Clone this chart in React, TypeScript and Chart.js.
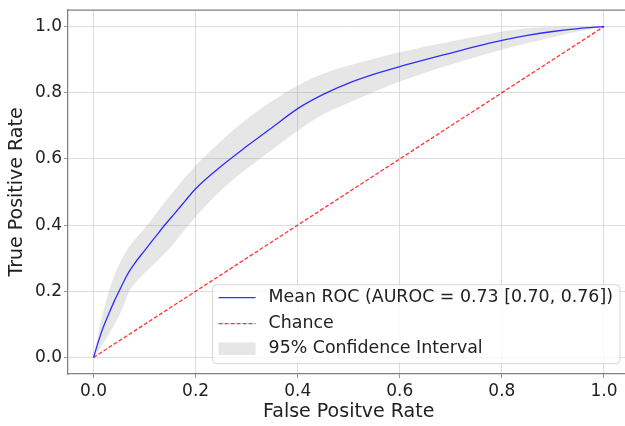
import React, { useEffect, useRef } from "react";
import { Chart, registerables } from "chart.js";

Chart.register(...registerables);

const fpr = [0, 0.01, 0.02, 0.03, 0.04, 0.05, 0.06, 0.07, 0.08, 0.1, 0.12, 0.14, 0.16, 0.18, 0.2, 0.25, 0.3, 0.35, 0.4, 0.45, 0.5, 0.55, 0.6, 0.65, 0.7, 0.75, 0.8, 0.85, 0.9, 0.95, 1.0];
const meanTpr = [0, 0.05, 0.095, 0.132, 0.168, 0.2, 0.232, 0.26, 0.283, 0.323, 0.362, 0.401, 0.437, 0.474, 0.51, 0.578, 0.638, 0.695, 0.752, 0.795, 0.829, 0.856, 0.879, 0.9, 0.92, 0.94, 0.958, 0.973, 0.985, 0.994, 1.0];
const upperTpr = [0, 0.08, 0.145, 0.2, 0.245, 0.28, 0.31, 0.335, 0.355, 0.39, 0.43, 0.47, 0.508, 0.545, 0.58, 0.655, 0.72, 0.775, 0.822, 0.857, 0.882, 0.903, 0.922, 0.94, 0.955, 0.97, 0.985, 0.995, 0.999, 1.0, 1.0];
const lowerTpr = [0, 0.02, 0.045, 0.07, 0.097, 0.125, 0.16, 0.2, 0.222, 0.255, 0.285, 0.315, 0.35, 0.388, 0.425, 0.505, 0.57, 0.628, 0.685, 0.735, 0.77, 0.803, 0.834, 0.86, 0.885, 0.908, 0.93, 0.95, 0.968, 0.985, 1.0];
const chanceX = [0, 1];
const chanceY = [0, 1];

const xRange = [-0.05, 1.05];
const yRange = [-0.05, 1.05];

const legendLabels = ["Mean ROC (AUROC = 0.73 [0.70, 0.76])", "Chance", "95% Confidence Interval"];
const xTitle = "False Positve Rate";
const yTitle = "True Positive Rate";

const FONT = '"DejaVu Sans", sans-serif';
const SPINE = "#808080";

const toPts = (xs: number[], ys: number[]) => xs.map((x, i) => ({ x, y: ys[i] }));

const framePlugin = {
  id: "frameTop",
  afterDraw(chart: any) {
    const { ctx, chartArea } = chart;
    ctx.save();
    ctx.strokeStyle = SPINE;
    ctx.lineWidth = 1.25;
    ctx.beginPath();
    ctx.moveTo(chartArea.left, chartArea.top);
    ctx.lineTo(chartArea.right, chartArea.top);
    ctx.stroke();
    ctx.restore();
  },
};

const legendPlugin = {
  id: "rocLegend",
  afterDraw(chart: any) {
    const { ctx, chartArea } = chart;
    const ds = chart.data.datasets;
    ctx.save();
    ctx.font = `17.4px ${FONT}`;
    const textW = Math.max(...legendLabels.map((t) => ctx.measureText(t).width));
    const padL = 6, handleW = 37, gap = 13, padR = 7;
    const boxW = padL + handleW + gap + textW + padR;
    const boxH = 79;
    const right = chartArea.right - 9.5;
    const bottom = chartArea.bottom - 10.3;
    const left = right - boxW;
    const top = bottom - boxH;
    ctx.beginPath();
    ctx.roundRect(left, top, boxW, boxH, 4);
    ctx.fillStyle = "rgba(255,255,255,0.8)";
    ctx.fill();
    ctx.strokeStyle = "rgba(204,204,204,0.8)";
    ctx.lineWidth = 1;
    ctx.stroke();

    const rows = [top + 13, top + 39, top + 64];
    const hx = left + padL;
    ctx.strokeStyle = ds[0].borderColor;
    ctx.lineWidth = ds[0].borderWidth;
    ctx.setLineDash([]);
    ctx.beginPath();
    ctx.moveTo(hx, rows[0]);
    ctx.lineTo(hx + handleW, rows[0]);
    ctx.stroke();
    ctx.strokeStyle = ds[1].borderColor;
    ctx.lineWidth = ds[1].borderWidth;
    ctx.setLineDash(ds[1].borderDash);
    ctx.beginPath();
    ctx.moveTo(hx, rows[1]);
    ctx.lineTo(hx + handleW, rows[1]);
    ctx.stroke();
    ctx.setLineDash([]);
    ctx.fillStyle = ds[2].backgroundColor;
    ctx.fillRect(hx, rows[2] - 6.3, handleW, 12.6);

    ctx.fillStyle = "#222";
    ctx.textBaseline = "middle";
    ctx.textAlign = "left";
    legendLabels.forEach((t, i) => ctx.fillText(t, hx + handleW + gap, rows[i]));
    ctx.restore();
  },
};

export default function App() {
  const ref = useRef<HTMLCanvasElement | null>(null);
  useEffect(() => {
    if (!ref.current) return;
    const chart = new Chart(ref.current, {
      type: "line",
      data: {
        datasets: [
          {
            label: legendLabels[0],
            data: toPts(fpr, meanTpr),
            borderColor: "rgba(0,0,255,0.8)",
            borderWidth: 1.3,
            pointRadius: 0,
            cubicInterpolationMode: "monotone",
            fill: false,
          },
          {
            label: legendLabels[1],
            data: toPts(chanceX, chanceY),
            borderColor: "rgba(255,0,0,0.8)",
            borderWidth: 1.3,
            borderDash: [4, 2],
            pointRadius: 0,
            fill: false,
          },
          {
            label: legendLabels[2],
            data: toPts(fpr, upperTpr),
            borderWidth: 0,
            borderColor: "rgba(0,0,0,0)",
            backgroundColor: "rgba(128,128,128,0.2)",
            pointRadius: 0,
            cubicInterpolationMode: "monotone",
            fill: "+1",
          },
          {
            label: "lower",
            data: toPts(fpr, lowerTpr),
            borderWidth: 0,
            borderColor: "rgba(0,0,0,0)",
            pointRadius: 0,
            cubicInterpolationMode: "monotone",
            fill: false,
          },
        ],
      },
      options: {
        responsive: false,
        animation: false,
        devicePixelRatio: 1,
        layout: { padding: { left: 0, right: 10.5, top: 10, bottom: 0 } },
        plugins: {
          legend: { display: false },
          tooltip: { enabled: false },
          filler: { drawTime: "beforeDatasetsDraw" },
        },
        scales: {
          x: {
            type: "linear",
            min: xRange[0],
            max: xRange[1],
            afterFit: (s: any) => {
              s.height = 52;
              s.paddingLeft = 0;
              s.paddingRight = 0;
            },
            ticks: {
              stepSize: 0.2,
              includeBounds: false,
              maxRotation: 0,
              padding: 3,
              color: "#222",
              font: { family: FONT, size: 17 },
              callback: (v: any) => Number(v).toFixed(1),
            },
            grid: { color: "#dcdcdc", lineWidth: 1, tickLength: 4, tickColor: "#999" },
            border: { display: true, color: SPINE, width: 1.25 },
            title: {
              display: true,
              text: xTitle,
              color: "#222",
              font: { family: FONT, size: 19 },
              padding: { top: 0, bottom: 3 },
            },
          },
          y: {
            type: "linear",
            min: yRange[0],
            max: yRange[1],
            afterFit: (s: any) => {
              s.width = 68;
              s.paddingTop = 0;
              s.paddingBottom = 0;
            },
            ticks: {
              stepSize: 0.2,
              includeBounds: false,
              padding: 2,
              color: "#222",
              font: { family: FONT, size: 17 },
              callback: (v: any) => Number(v).toFixed(1),
            },
            grid: { color: "#dcdcdc", lineWidth: 1, tickLength: 4, tickColor: "#999" },
            border: { display: true, color: SPINE, width: 1.25 },
            title: {
              display: true,
              text: yTitle,
              color: "#222",
              font: { family: FONT, size: 19 },
              padding: { top: 5.5, bottom: 0 },
            },
          },
        },
      },
      plugins: [framePlugin, legendPlugin],
    } as any);
    return () => chart.destroy();
  }, []);
  return (
    <div style={{ position: "fixed", left: 0, top: 0, width: 640, height: 426, background: "#fff" }}>
      <canvas ref={ref} width={640} height={426} style={{ display: "block" }} />
    </div>
  );
}
